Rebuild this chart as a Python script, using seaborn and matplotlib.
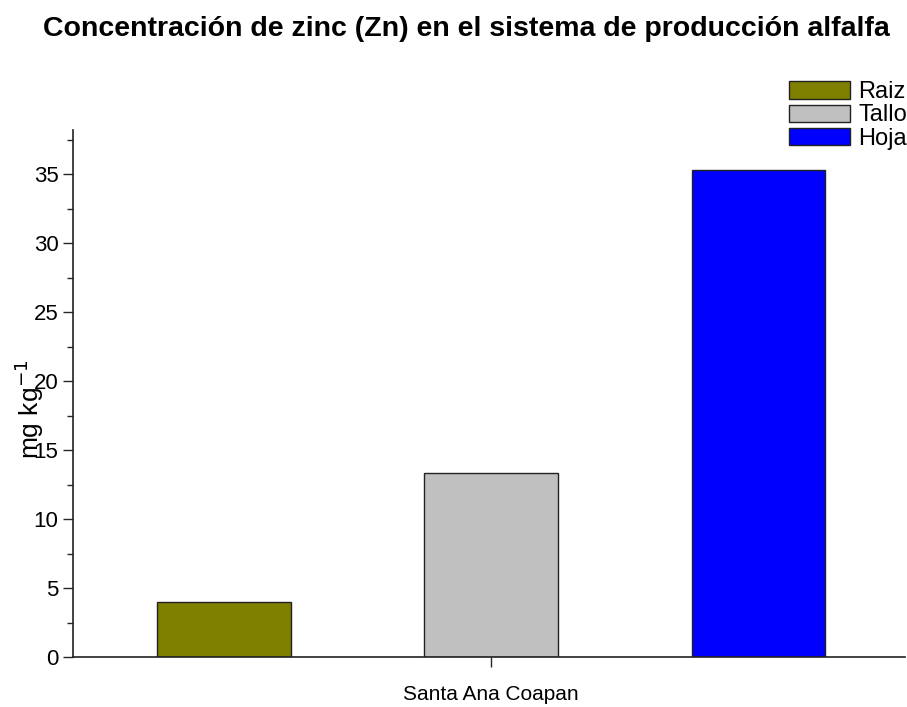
import pandas as pd
import matplotlib.pyplot as plt
import seaborn as sns
from matplotlib.patches import Patch
from matplotlib.ticker import MultipleLocator

# data
organos = ["Raiz", "Tallo", "Hoja"]
zinc = [4.0, 13.35, 35.3]
colores = ["#808000", "#c0c0c0", "#0000ff"]
sitio = "Santa Ana Coapan"

df = pd.DataFrame({"organo": organos, "zn": zinc})

sns.set_theme(style="ticks")
plt.rcParams["font.family"] = ["Liberation Sans", "DejaVu Sans"]

fig = plt.figure(figsize=(9.07, 7.07), dpi=100)
ax = fig.add_axes([0.0805, 0.0707, 0.9175, 0.7453])

sns.barplot(data=df, x="organo", y="zn", hue="organo", palette=colores,
            saturation=1, width=0.5, edgecolor="#222222", linewidth=1.0,
            legend=False, ax=ax)

ax.set_xlim(-0.566, 2.55)
ax.set_ylim(0, 38.2)
ax.set_xticks([1])
ax.set_xticklabels([sitio], fontsize=15, color="black")
ax.tick_params(axis="x", length=7, width=1, pad=13)
ax.yaxis.set_major_locator(MultipleLocator(5))
ax.yaxis.set_minor_locator(MultipleLocator(2.5))
ax.tick_params(axis="y", which="major", length=7, width=1, labelsize=16, labelcolor="black")
ax.tick_params(axis="y", which="minor", length=4, width=1)
ax.set_xlabel("")
# the label sits on top of the tick labels, as in the original
ax.set_ylabel("mg kg$^{-1}$", fontsize=19, color="black")
ax.yaxis.set_label_coords(-0.032, 0.47)
for s in ["top", "right"]:
    ax.spines[s].set_visible(False)
for s in ["left", "bottom"]:
    ax.spines[s].set_color("#222222")
    ax.spines[s].set_linewidth(1.2)

handles = [Patch(facecolor=c, edgecolor="#222222", label=o) for o, c in zip(organos, colores)]
fig.legend(handles=handles, loc="upper right", bbox_to_anchor=(1.0, 0.885),
           frameon=False, fontsize=17, handlelength=2.6, handleheight=0.75,
           labelspacing=0.05, handletextpad=0.35, borderaxespad=0, borderpad=0,
           labelcolor="black")

fig.suptitle("Concentración de zinc (Zn) en el sistema de producción alfalfa",
             fontsize=20.5, fontweight="bold", x=0.514, y=0.978, color="black")

fig.savefig("out.png", dpi=100)
